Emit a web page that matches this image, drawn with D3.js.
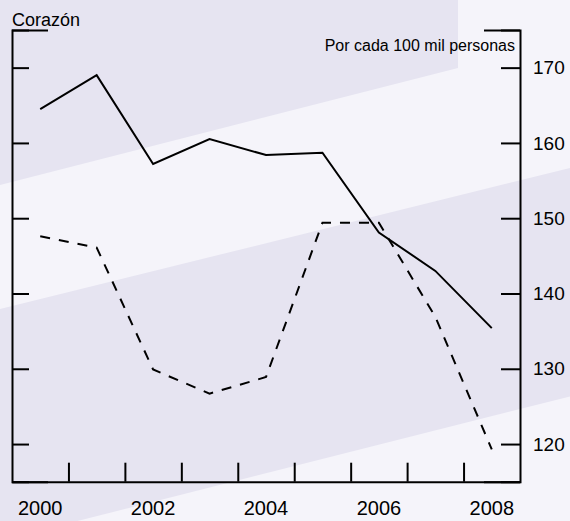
<!DOCTYPE html>
<html>
<head>
<meta charset="utf-8">
<script src="https://cdn.jsdelivr.net/npm/d3@7"></script>
<style>
  html, body { margin: 0; padding: 0; background: #f5f4fa; }
  svg { display: block; }
  text { font-family: "Liberation Sans", Arial, sans-serif; fill: #000; }
</style>
</head>
<body>
<svg id="chart" width="570" height="521"></svg>
<script>
const years = [2000, 2001, 2002, 2003, 2004, 2005, 2006, 2007, 2008];
const solidSeries = [164.5, 169.0, 157.2, 160.5, 158.4, 158.7, 148.1, 143.0, 135.4];
const dashedSeries = [147.6, 146.1, 129.9, 126.7, 128.9, 149.4, 149.4, 136.9, 119.3];
const yTickValues = [115, 120, 130, 140, 150, 160, 170, 175];
const yTickLabels = [120, 130, 140, 150, 160, 170];
const xTickLabels = [2000, 2002, 2004, 2006, 2008];
const title = "Corazón";
const unitLabel = "Por cada 100 mil personas";

(function () {
const W = 570, H = 521;
const plotLeft = 12, plotRight = 520, plotTop = 30, plotBottom = 481.7;
const light = "#f5f4fa", dark = "#e6e4f1";

const svg = d3.select("#chart");

// background
svg.append("rect").attr("width", W).attr("height", H).attr("fill", light);
svg.append("polygon")
  .attr("points", [[0,0],[458,0],[458,68],[0,185]].map(p => p.join(",")).join(" "))
  .attr("fill", dark);
svg.append("polygon")
  .attr("points", [[0,309],[570,168],[570,396.4],[0,540.6]].map(p => p.join(",")).join(" "))
  .attr("fill", dark);

const x = d3.scaleBand().domain(years).range([plotLeft, plotRight]).padding(0);
const xIdx = d3.scaleLinear().domain([0, years.length]).range([plotLeft, plotRight]);
const y = d3.scaleLinear().domain([115, 175]).range([plotBottom, plotTop]);

const line = d3.line()
  .x((d, i) => x(years[i]) + x.bandwidth() / 2)
  .y(d => y(d));

svg.append("path").datum(dashedSeries)
  .attr("d", line).attr("fill", "none").attr("stroke", "#000")
  .attr("stroke-width", 2).attr("stroke-dasharray", "10,9");

svg.append("path").datum(solidSeries)
  .attr("d", line).attr("fill", "none").attr("stroke", "#000")
  .attr("stroke-width", 2);

// left axis (no labels)
const gl = svg.append("g").attr("transform", `translate(${plotLeft},0)`)
  .call(d3.axisLeft(y).tickValues(yTickValues).tickSize(-17).tickSizeOuter(-36).tickFormat(""));
// right axis
const gr = svg.append("g").attr("transform", `translate(${plotRight},0)`)
  .call(d3.axisRight(y).tickValues(yTickValues).tickSize(-19).tickSizeOuter(-36).tickPadding(13)
    .tickFormat(d => yTickLabels.includes(d) ? d : ""));
// bottom ticks at band boundaries
const gb = svg.append("g").attr("transform", `translate(0,${plotBottom})`)
  .call(d3.axisBottom(xIdx).tickValues(d3.range(1, years.length)).tickSize(-19).tickSizeOuter(0).tickFormat(""));
// bottom labels
const gbl = svg.append("g").attr("transform", `translate(0,${plotBottom})`)
  .call(d3.axisBottom(x).tickValues(xTickLabels).tickSize(0).tickPadding(19));
gbl.select(".domain").remove();

[gl, gr, gb].forEach(g => {
  g.selectAll("path.domain").attr("stroke", "#000").attr("stroke-width", 2);
  g.selectAll(".tick line").attr("stroke", "#000").attr("stroke-width", 2);
});
gr.selectAll("text").attr("font-size", 19).attr("font-family", "Liberation Sans, Arial, sans-serif").attr("fill", "#000");
gbl.selectAll("text").attr("font-size", 20).attr("font-family", "Liberation Sans, Arial, sans-serif").attr("fill", "#000");

svg.append("text").attr("x", 12).attr("y", 26).attr("font-size", 18).text(title);
svg.append("text").attr("x", 515).attr("y", 51).attr("font-size", 16)
  .attr("text-anchor", "end").text(unitLabel);
})();
</script>
</body>
</html>
